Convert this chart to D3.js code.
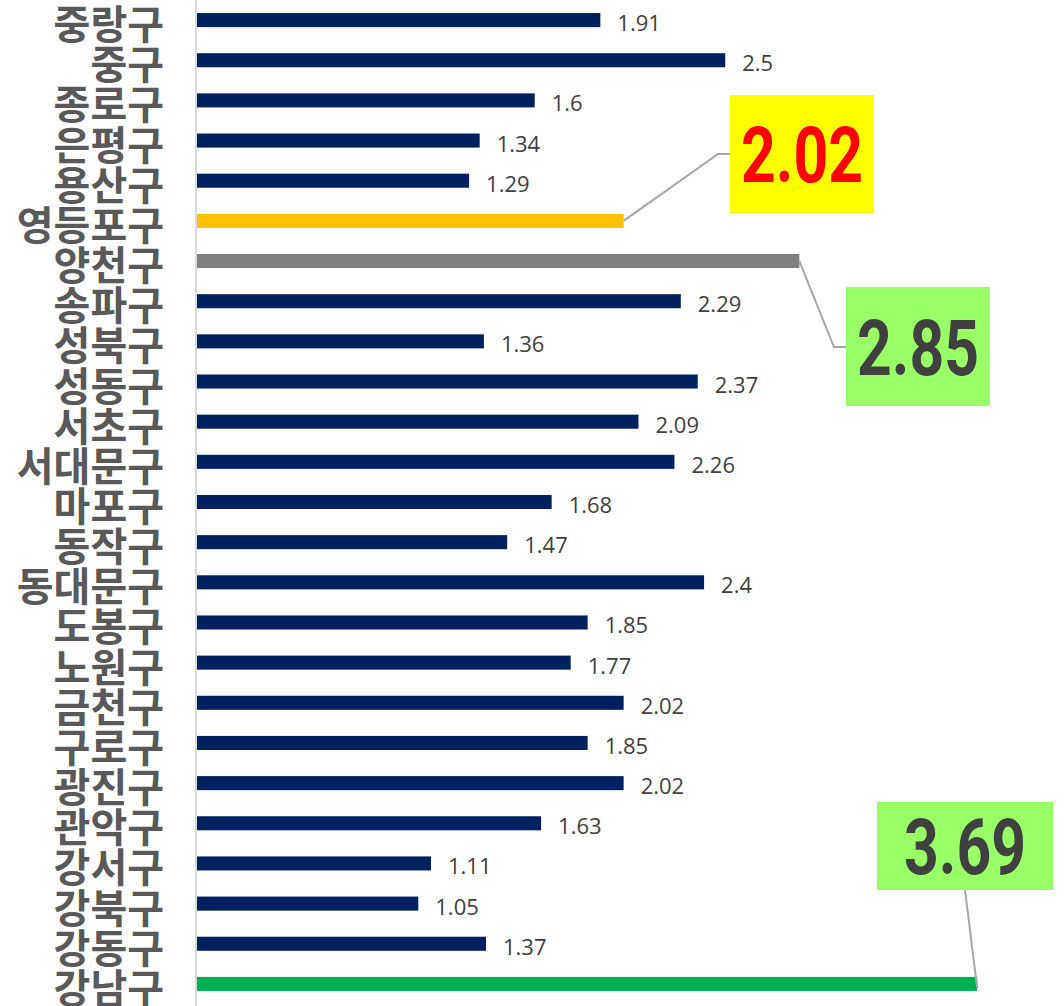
<!DOCTYPE html>
<html>
<head>
<meta charset="utf-8">
<script src="https://cdn.jsdelivr.net/npm/d3@7"></script>
<style>
  body { margin: 0; background: #fff; }
  svg { display: block; }
</style>
</head>
<body>
<div id="chart"></div>
<script>
// districts, top to bottom as drawn
const districts = ["중랑구", "중구", "종로구", "은평구", "용산구", "영등포구", "양천구", "송파구",
  "성북구", "성동구", "서초구", "서대문구", "마포구", "동작구", "동대문구", "도봉구", "노원구",
  "금천구", "구로구", "광진구", "관악구", "강서구", "강북구", "강동구", "강남구"];
const values = [1.91, 2.5, 1.6, 1.34, 1.29, 2.02, 2.85, 2.29, 1.36, 2.37, 2.09, 2.26, 1.68,
  1.47, 2.4, 1.85, 1.77, 2.02, 1.85, 2.02, 1.63, 1.11, 1.05, 1.37, 3.69];
const highlight = { "영등포구": "#FFC000", "양천구": "#808080", "강남구": "#00B050" };

const width = 1064, height = 1006;
const data = districts.map((d, i) => ({ name: d, value: values[i] }));

const svg = d3.select("#chart").append("svg")
  .attr("width", width)
  .attr("height", height);

const x = d3.scaleLinear().domain([0, 4]).range([196, 196 + 4 * 211.7]);
const y = d3.scaleBand().domain(districts).range([0, 1004]).paddingInner(0.65).paddingOuter(0.325);

// bars
svg.selectAll("rect.bar")
  .data(data)
  .enter()
  .append("rect")
  .attr("class", "bar")
  .attr("x", x(0))
  .attr("y", d => y(d.name))
  .attr("width", d => x(d.value) - x(0))
  .attr("height", y.bandwidth())
  .attr("fill", d => highlight[d.name] || "#002060");

// vertical axis line
svg.append("line")
  .attr("x1", x(0)).attr("x2", x(0))
  .attr("y1", 0).attr("y2", height)
  .attr("stroke", "#d9d9d9")
  .attr("stroke-width", 2);

// category labels
svg.selectAll("text.cat")
  .data(data)
  .enter()
  .append("text")
  .attr("class", "cat")
  .attr("x", 164)
  .attr("y", d => y(d.name) + y.bandwidth() / 2 + 19)
  .attr("text-anchor", "end")
  .style("font-family", "'Noto Sans CJK KR', sans-serif")
  .style("font-weight", 700)
  .style("font-size", "40px")
  .attr("fill", "#595959")
  .text(d => d.name);

// value labels (not for highlighted bars)
svg.selectAll("text.val")
  .data(data.filter(d => !highlight[d.name]))
  .enter()
  .append("text")
  .attr("class", "val")
  .attr("x", d => x(d.value) + 17)
  .attr("y", d => y(d.name) + y.bandwidth() / 2 + 11)
  .style("font-family", "'Open Sans', sans-serif")
  .style("font-size", "22px")
  .attr("fill", "#404040")
  .text(d => d.value);

// callouts
const callouts = [
  { name: "영등포구", box: [730, 95, 144, 118], fill: "#FFFF00", color: "#FF0000",
    path: (bx, by) => [[bx, by], [718, 154], [730, 154]] },
  { name: "양천구", box: [846, 287, 144, 119], fill: "#99FF66", color: "#404040",
    path: (bx, by) => [[bx, by], [834, 347], [846, 347]] },
  { name: "강남구", box: [877, 802, 176, 88], fill: "#99FF66", color: "#404040",
    path: (bx, by) => [[bx, by + 4], [965, 890]] }
];

const line = d3.line();
callouts.forEach(c => {
  const d = data.find(e => e.name === c.name);
  const bx = x(d.value), by = y(d.name) + y.bandwidth() / 2;
  svg.append("path")
    .attr("d", line(c.path(bx, by)))
    .attr("fill", "none")
    .attr("stroke", "#a6a6a6")
    .attr("stroke-width", 2);
  const [rx, ry, rw, rh] = c.box;
  svg.append("rect")
    .attr("x", rx).attr("y", ry)
    .attr("width", rw).attr("height", rh)
    .attr("fill", c.fill);
  svg.append("text")
    .attr("x", rx + rw / 2)
    .attr("y", ry + rh / 2 + 28)
    .attr("text-anchor", "middle")
    .attr("textLength", 122)
    .attr("lengthAdjust", "spacingAndGlyphs")
    .style("font-family", "Roboto, sans-serif")
    .style("font-weight", 700)
    .style("font-size", "78px")
    .attr("fill", c.color)
    .text(d.value);
});
</script>
</body>
</html>
